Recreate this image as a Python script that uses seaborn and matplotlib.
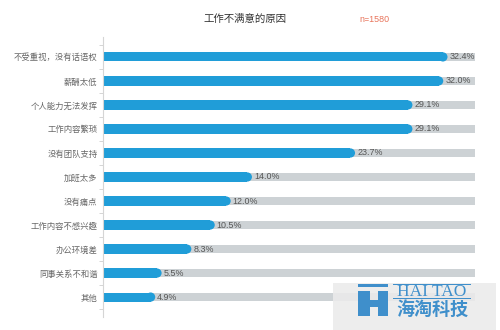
import numpy as np
import pandas as pd
import matplotlib
matplotlib.use("Agg")
import matplotlib.pyplot as plt
from matplotlib.patches import Rectangle
import seaborn as sns

categories = ["不受重视，没有话语权", "薪酬太低", "个人能力无法发挥", "工作内容繁琐", "没有团队支持",
              "加班太多", "没有痛点", "工作内容不感兴趣", "办公环境差", "同事关系不和谐", "其他"]
values = [32.4, 32.0, 29.1, 29.1, 23.7, 14.0, 12.0, 10.5, 8.3, 5.5, 4.9]
background_max = 35.0
title = "工作不满意的原因"
sample_note = "n=1580"

BLUE = "#209dd8"
GRAY = "#cdd2d5"

sns.set_theme(style="white")
plt.rcParams["font.family"] = ["Noto Sans CJK SC", "DejaVu Sans"]

fig = plt.figure(figsize=(5, 3.3), dpi=100)
ax = fig.add_axes([0.206, 0.0394, 0.744, 0.8485])

n = len(categories)
cap_r = 0.42  # cap radius in data units (~4.5px)
df = pd.DataFrame({
    "cat": categories,
    "val": values,
    "bar": np.array(values) - cap_r,
    "bg": [background_max] * n,
})

sns.barplot(data=df, x="bg", y="cat", color=GRAY, saturation=1, width=0.35, ax=ax, linewidth=0)
sns.barplot(data=df, x="bar", y="cat", color=BLUE, saturation=1, width=0.38, ax=ax, linewidth=0)
sns.scatterplot(data=df, x="bar", y="cat", color=BLUE, s=44, linewidth=0, edgecolor="none",
                ax=ax, legend=False, zorder=3)

for i, v in enumerate(values):
    ax.text(v + 0.2, i, f"{v:.1f}%", va="center", ha="left", fontsize=6.4, color="#555555",
            family=["Liberation Sans", "DejaVu Sans"], zorder=4)

ax.set_xlim(0, background_max)
ax.set_ylim(n - 1 + 0.83, -0.83)
ax.set_xlabel("")
ax.set_ylabel("")
ax.set_xticks([])
for s in ["top", "right", "bottom"]:
    ax.spines[s].set_visible(False)
ax.spines["left"].set_color("#d5d5d5")
ax.spines["left"].set_linewidth(0.8)
ax.set_yticks(np.arange(-0.5, n), minor=True)
ax.tick_params(axis="y", which="major", length=0, pad=4, labelsize=6, labelcolor="#666666")
ax.tick_params(axis="y", which="minor", length=3, width=0.7, color="#d5d5d5", left=True,
               direction="out")

fig.text(245 / 500, 1 - 19 / 330, title, ha="center", va="center", fontsize=7.5, color="#333333")
fig.text(374 / 500, 1 - 19 / 330, sample_note, ha="center", va="center", fontsize=6.4,
         family=["Liberation Sans", "DejaVu Sans"], color="#e8735a")

# watermark
W, H = 500, 330
def fig_rect(x0, y0, x1, y1, **kw):
    fig.patches.append(Rectangle((x0 / W, 1 - y1 / H), (x1 - x0) / W, (y1 - y0) / H,
                                 transform=fig.transFigure, figure=fig, **kw))

fig_rect(333, 283, 496, 330, facecolor="#ebebeb", alpha=0.88, edgecolor="none", zorder=10)
LOGO = "#3f8fcb"
fig_rect(358, 284, 388, 286.5, facecolor=LOGO, edgecolor="none", zorder=11)
fig_rect(358, 291, 370, 316, facecolor=LOGO, edgecolor="none", zorder=11)
fig_rect(378, 291, 388, 316, facecolor=LOGO, edgecolor="none", zorder=11)
fig_rect(370, 300, 378, 307, facecolor=LOGO, edgecolor="none", zorder=11)
fig_rect(393, 284, 471, 285, facecolor=LOGO, edgecolor="none", zorder=11)
fig_rect(393, 297.5, 471, 298.5, facecolor=LOGO, edgecolor="none", zorder=11)
fig.text(432 / W, 1 - 291.5 / H, "HAI TAO", ha="center", va="center", fontsize=12.5,
         family="Liberation Serif", color=LOGO, zorder=12)
fig.text(432 / W, 1 - 309 / H, "海淘科技", ha="center", va="center", fontsize=13,
         fontweight="bold", color=LOGO, zorder=12)

fig.savefig("out.png", dpi=100)
